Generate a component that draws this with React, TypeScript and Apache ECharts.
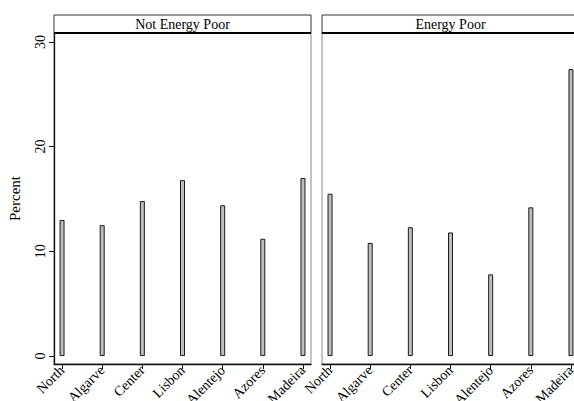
import { useEffect, useRef } from "react";
import * as echarts from "echarts";

const categories = ["North", "Algarve", "Center", "Lisbon", "Alentejo", "Azores", "Madeira"];
const notEnergyPoor = [13.0, 12.5, 14.8, 16.8, 14.4, 11.2, 17.0];
const energyPoor = [15.5, 10.8, 12.3, 11.8, 7.8, 14.2, 27.4];
const panelTitles = ["Not Energy Poor", "Energy Poor"];
const yTicks = [0, 10, 20, 30];
const yLabel = "Percent";

const FONT = "Liberation Serif";

export default function App() {
  const ref = useRef<HTMLDivElement>(null);
  useEffect(() => {
    const chart = echarts.init(ref.current!, null, { renderer: "svg" });
    const panels = [notEnergyPoor, energyPoor];
    const gridLefts = [54, 322];
    const gw = 257;
    const gTop = 33;
    const gH = 331;
    const xIdx = categories.map((_, k) => k);

    const option: any = {
      animation: false,
      backgroundColor: "#fff",
      textStyle: { fontFamily: FONT },
      grid: gridLefts.map((l) => ({
        left: l,
        top: gTop,
        width: gw,
        height: gH,
        show: true,
        borderColor: "#8a8a8a",
        borderWidth: 1,
        containLabel: false,
        outerBoundsMode: "none",
      })),
      xAxis: panels.map((_, i) => ({
        type: "value",
        gridIndex: i,
        min: -0.2,
        max: 6.2,
        axisLine: { show: true, onZero: false, lineStyle: { color: "#111", width: 1.3 } },
        axisTick: { show: true, customValues: xIdx, length: 5, lineStyle: { color: "#111", width: 1 } },
        axisLabel: {
          customValues: xIdx,
          rotate: 45,
          margin: 4,
          formatter: (v: number) => categories[Math.round(v)] ?? "",
          fontFamily: FONT,
          fontSize: 14,
          color: "#000",
        },
        splitLine: { show: false },
      })),
      yAxis: panels.map((_, i) => ({
        type: "value",
        gridIndex: i,
        min: -0.76,
        max: 30.85,
        name: i === 0 ? yLabel : "",
        nameLocation: "middle",
        nameRotate: 90,
        nameGap: 32,
        nameTextStyle: { fontFamily: FONT, fontSize: 15, color: "#000" },
        axisLine: { show: i === 0, onZero: false, lineStyle: { color: "#111", width: 1.3 } },
        axisTick: { show: i === 0, customValues: yTicks, length: 5, lineStyle: { color: "#111", width: 1 } },
        axisLabel: {
          show: i === 0,
          customValues: yTicks,
          rotate: 90,
          margin: 7,
          fontFamily: FONT,
          fontSize: 14,
          color: "#000",
        },
        splitLine: { show: false },
      })),
      series: panels.map((vals, i) => ({
        type: "bar",
        xAxisIndex: i,
        yAxisIndex: i,
        barWidth: 5,
        data: vals.map((v, k) => [k, v]),
        itemStyle: { color: "#bebebe", borderColor: "#1a1a1a", borderWidth: 1 },
      })),
      graphic: gridLefts.flatMap((l, i) => [
        {
          type: "rect",
          shape: { x: l, y: 15, width: gw, height: gTop - 15 },
          style: { fill: "#fff", stroke: "#333", lineWidth: 1 },
          z: 10,
        },
        {
          type: "line",
          shape: { x1: l, y1: gTop, x2: l + gw, y2: gTop },
          style: { stroke: "#000", lineWidth: 2 },
          z: 11,
        },
        {
          type: "text",
          x: l + gw / 2,
          y: 24,
          style: {
            text: panelTitles[i],
            fontFamily: FONT,
            fontSize: 14,
            fill: "#000",
            align: "center",
            verticalAlign: "middle",
          },
          z: 12,
        },
      ]),
    };
    chart.setOption(option);
    return () => chart.dispose();
  }, []);
  return (
    <div
      ref={ref}
      style={{ position: "absolute", left: 0, top: 0, width: 574, height: 401 }}
    />
  );
}
